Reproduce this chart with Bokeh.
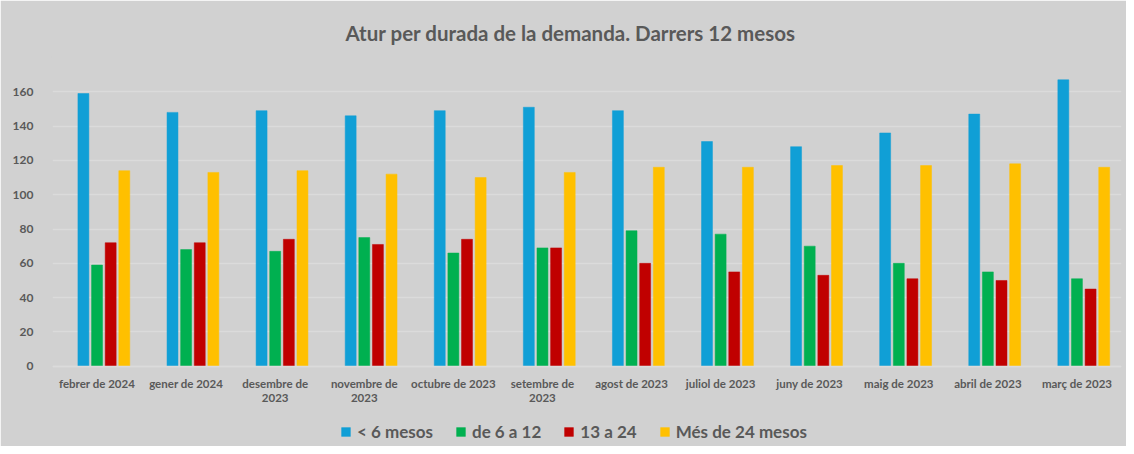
from bokeh.plotting import figure
from bokeh.models import ColumnDataSource, FactorRange, FixedTicker, Legend, LegendItem
from bokeh.transform import dodge
from bokeh.embed import file_html
from bokeh.resources import INLINE

months = ["febrer de 2024", "gener de 2024", "desembre de\n2023", "novembre de\n2023",
          "octubre de 2023", "setembre de\n2023", "agost de 2023", "juliol de 2023",
          "juny de 2023", "maig de 2023", "abril de 2023", "març de 2023"]
menys_6 = [159, 148, 149, 146, 149, 151, 149, 131, 128, 136, 147, 167]
de_6_a_12 = [59, 68, 67, 75, 66, 69, 79, 77, 70, 60, 55, 51]
de_13_a_24 = [72, 72, 74, 71, 74, 69, 60, 55, 53, 51, 50, 45]
mes_24 = [114, 113, 114, 112, 110, 113, 116, 116, 117, 117, 118, 116]
series_labels = ["< 6 mesos", "de 6 a 12", "13 a 24", "Més de 24 mesos"]
y_ticks = [0, 20, 40, 60, 80, 100, 120, 140, 160]

colors = ["#109FD6", "#00B050", "#C00000", "#FFC000"]
BG = "#d1d1d1"
TXT = "#595959"
FONT = "Lato"

src = ColumnDataSource(dict(m=months, a=menys_6, b=de_6_a_12, c=de_13_a_24, d=mes_24))

p = figure(x_range=FactorRange(*months, range_padding=0), y_range=(-46.8, 180),
           width=1126, height=446, output_backend="svg", toolbar_location=None,
           min_border_left=52, min_border_right=5, min_border_top=57, min_border_bottom=0)
p.background_fill_color = BG
p.border_fill_color = BG
p.outline_line_color = BG
p.outline_line_width = 3

p.title.text = "Atur per durada de la demanda. Darrers 12 mesos"
p.title.align = "left"
p.title.offset = 293
p.title.text_font = FONT
p.title.text_font_size = "20.5px"
p.title.text_font_style = "bold"
p.title.text_color = TXT
p.title.standoff = 25

offsets = [-0.153, 0.0, 0.153, 0.306]
fields = ["a", "b", "c", "d"]
renderers = []
for f, off, col in zip(fields, offsets, colors):
    r = p.vbar(x=dodge("m", off, range=p.x_range), top=f, width=0.123, source=src,
               fill_color=col, line_color=col, line_width=0.5)
    renderers.append(r)

p.xgrid.grid_line_color = None
p.ygrid.grid_line_color = "#dbdbdb"
p.ygrid.grid_line_width = 1.5
p.yaxis.ticker = FixedTicker(ticks=y_ticks)
p.yaxis.axis_line_color = None
p.yaxis.major_tick_line_color = None
p.yaxis.minor_tick_line_color = None
p.yaxis.major_label_text_font = FONT
p.yaxis.major_label_text_font_size = "12px"
p.yaxis.major_label_text_font_style = "bold"
p.yaxis.major_label_text_color = TXT
p.yaxis.major_label_standoff = 13

p.xaxis.fixed_location = 0
p.xaxis.axis_line_color = "#dbdbdb"
p.xaxis.axis_line_width = 1.5
p.xaxis.major_tick_line_color = None
p.xaxis.minor_tick_line_color = None
p.xaxis.major_label_text_font = FONT
p.xaxis.major_label_text_font_size = "11.5px"
p.xaxis.major_label_text_font_style = "bold"
p.xaxis.major_label_text_color = TXT
p.xaxis.major_label_text_line_height = 1.05
p.xaxis.major_label_standoff = 5

legend = Legend(items=[LegendItem(label=l, renderers=[r]) for l, r in zip(series_labels, renderers)],
                orientation="horizontal", location=(288, 4))
legend.background_fill_alpha = 0
legend.border_line_color = None
legend.padding = 0
legend.margin = 0
legend.glyph_width = 11
legend.glyph_height = 11
legend.label_standoff = 6
legend.spacing = 22
legend.label_text_font = FONT
legend.label_text_font_size = "17px"
legend.label_text_font_style = "bold"
legend.label_text_color = TXT
p.add_layout(legend, "center")

open("out.html", "w").write(file_html(p, INLINE))
